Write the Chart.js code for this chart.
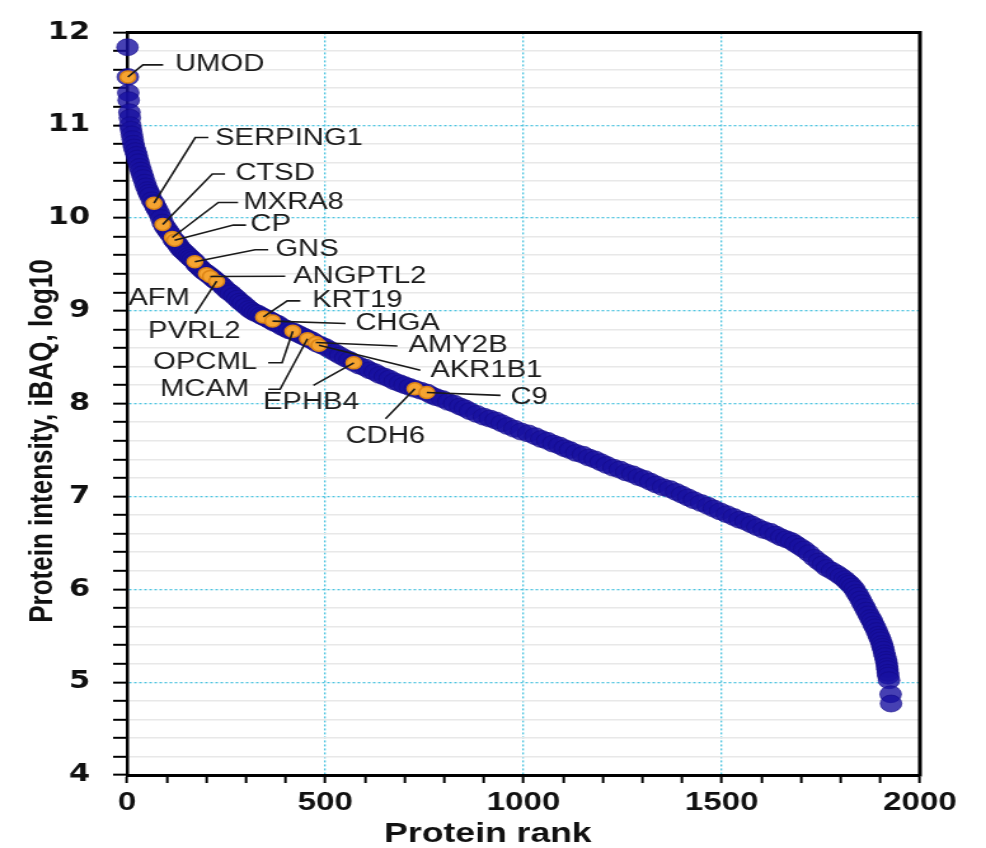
<!DOCTYPE html>
<html><head><meta charset="utf-8">
<script src="https://cdn.jsdelivr.net/npm/chart.js@4.4.1/dist/chart.umd.min.js"></script>
<style>
html,body{margin:0;padding:0;background:#fff;overflow:hidden}
#c{display:block}
</style></head>
<body>
<canvas id="c" width="776" height="848" style="width:986px;height:848px"></canvas>
<script>
// ---- data ----
const proteinRanks = [1,2,3,4,6,7,8,10,12,14,16,18,21,24,26,29,32,35,38,41,45,48,52,55,58,63,68,72,76,81,86,90,95,100,105,110,117,121,125,130,135,140,145,150,155,160,165,171,175,180,185,190,195,200,205,209,214,218,222,226,233,240,247,255,262,270,278,285,292,300,308,315,322,330,337,344,352,360,365,372,380,390,400,409,418,428,437,447,457,467,478,489,500,512,525,537,550,561,572,586,600,612,625,637,650,662,675,688,700,713,726,741,756,768,780,795,810,825,840,852,865,882,900,915,930,945,960,977,994,1012,1030,1045,1060,1075,1090,1104,1117,1133,1150,1165,1180,1195,1210,1227,1243,1259,1275,1290,1305,1320,1335,1352,1369,1385,1400,1415,1430,1448,1465,1480,1496,1513,1530,1545,1560,1575,1590,1606,1622,1636,1650,1663,1675,1686,1697,1708,1720,1733,1745,1755,1765,1778,1790,1800,1810,1817,1823,1829,1835,1840,1845,1850,1855,1860,1865,1870,1875,1879,1883,1887,1891,1895,1898,1901,1904,1906,1908,1910,1912,1914,1916,1917,1918,1919,1920,1922,1926,1927];
const proteinIntensity = [11.84,11.52,11.35,11.27,11.14,11.08,11.00,10.95,10.90,10.85,10.80,10.76,10.72,10.68,10.64,10.60,10.55,10.51,10.47,10.43,10.38,10.34,10.30,10.27,10.24,10.19,10.16,10.12,10.09,10.05,10.00,9.95,9.91,9.88,9.85,9.82,9.77,9.75,9.73,9.70,9.67,9.65,9.63,9.61,9.59,9.57,9.55,9.53,9.50,9.48,9.46,9.44,9.42,9.41,9.39,9.38,9.36,9.35,9.33,9.32,9.30,9.27,9.24,9.21,9.19,9.16,9.13,9.10,9.08,9.05,9.02,9.00,8.98,8.97,8.95,8.935,8.92,8.90,8.89,8.87,8.86,8.83,8.81,8.79,8.78,8.76,8.74,8.72,8.70,8.68,8.65,8.63,8.61,8.58,8.55,8.52,8.49,8.47,8.44,8.41,8.39,8.36,8.34,8.31,8.29,8.27,8.24,8.22,8.20,8.18,8.16,8.14,8.12,8.09,8.07,8.05,8.02,8.00,7.97,7.95,7.92,7.89,7.86,7.84,7.82,7.79,7.76,7.73,7.70,7.68,7.65,7.62,7.60,7.57,7.55,7.52,7.50,7.47,7.45,7.42,7.40,7.37,7.34,7.31,7.29,7.26,7.24,7.21,7.19,7.16,7.13,7.10,7.08,7.05,7.02,6.99,6.96,6.93,6.90,6.87,6.84,6.81,6.78,6.75,6.73,6.70,6.67,6.64,6.62,6.59,6.56,6.54,6.52,6.49,6.46,6.43,6.39,6.34,6.30,6.27,6.23,6.20,6.17,6.14,6.11,6.08,6.06,6.03,6.00,5.96,5.93,5.89,5.85,5.81,5.77,5.73,5.69,5.66,5.62,5.59,5.55,5.51,5.48,5.45,5.41,5.38,5.35,5.31,5.28,5.24,5.21,5.17,5.14,5.10,5.07,5.02,4.87,4.77];

const geneNames = ["UMOD","SERPING1","CTSD","MXRA8","CP","GNS","AFM","ANGPTL2","PVRL2","KRT19","CHGA","OPCML","MCAM","AMY2B","AKR1B1","EPHB4","CDH6","C9"];
const geneRanks = [2,68,90,114,120,171,200,210,226,344,367,418,455,476,484,572,726,756];
const geneIntensity = [11.52,10.16,9.93,9.79,9.76,9.53,9.40,9.37,9.32,8.935,8.89,8.78,8.70,8.66,8.63,8.44,8.16,8.12];

const xTickLabels = [0,500,1000,1500,2000];
const yTickLabels = [4,5,6,7,8,9,10,11,12];

const xTitle = "Protein rank";
const yTitle = "Protein intensity, iBAQ, log10";

// ---- label layout (data units: [rank, intensity]) ----
const labelLayout = {
  UMOD:     {text:[121,11.65],  path:[[40,11.65],[91,11.65]]},
  SERPING1: {text:[222,10.856], path:[[172,10.867],[205,10.867]]},
  CTSD:     {text:[273,10.475], path:[[215,10.475],[247,10.475]]},
  MXRA8:    {text:[293,10.167], path:[[230,10.167],[280,10.167]]},
  CP:       {text:[311,9.924],  path:[[268,9.924],[300,9.924]]},
  GNS:      {text:[374,9.659],  path:[[323,9.659],[356,9.659]]},
  AFM:      {text:[3,9.129],    path:null},
  ANGPTL2:  {text:[419,9.373],  path:[[399,9.373]]},
  PVRL2:    {text:[53,8.78],    path:[[172,8.97]]},
  KRT19:    {text:[467,9.108],  path:[[404,9.108],[437,9.108]]},
  CHGA:     {text:[576,8.864],  path:[[551,8.864]]},
  OPCML:    {text:[66,8.441],   path:[[391,8.441],[356,8.441]]},
  MCAM:     {text:[83,8.155],   path:[[386,8.155],[356,8.155]]},
  AMY2B:    {text:[710,8.621],  path:[[682,8.621]]},
  AKR1B1:   {text:[765,8.356],  path:[[740,8.36]]},
  EPHB4:    {text:[343,8.006],  path:[[470,8.197]]},
  CDH6:     {text:[551,7.646],  path:[[652,7.837]]},
  C9:       {text:[967,8.07],   path:[[942,8.09]]}
};

const CYAN = '#4cc3df';
const isInt = v => Math.abs(v - Math.round(v)) < 1e-6;
const isXMajor = v => xTickLabels.some(t => Math.abs(t - v) < 1e-6);

const annotPlugin = {
  id: 'annot',
  afterDatasetsDraw(chart) {
    const {ctx, scales:{x, y}, chartArea:a} = chart;
    ctx.save();
    // frame top / right
    ctx.strokeStyle = '#000';
    ctx.lineWidth = 3;
    ctx.beginPath();
    ctx.moveTo(a.left, a.top);
    ctx.lineTo(a.right, a.top);
    ctx.lineTo(a.right, a.bottom + 1.5);
    ctx.stroke();

    // leader lines
    ctx.strokeStyle = '#1a1a1a';
    ctx.lineWidth = 1.6;
    geneNames.forEach((g, i) => {
      const L = labelLayout[g];
      if (!L || !L.path) return;
      ctx.beginPath();
      ctx.moveTo(x.getPixelForValue(geneRanks[i]), y.getPixelForValue(geneIntensity[i]));
      L.path.forEach(p => ctx.lineTo(x.getPixelForValue(p[0]), y.getPixelForValue(p[1])));
      ctx.stroke();
    });
    // label text
    ctx.fillStyle = '#1c1c1c';
    ctx.font = '23px "Liberation Sans", Arial, sans-serif';
    ctx.textAlign = 'left';
    ctx.textBaseline = 'middle';
    geneNames.forEach(g => {
      const L = labelLayout[g];
      ctx.fillText(g, x.getPixelForValue(L.text[0]), y.getPixelForValue(L.text[1]));
    });

    // x title
    ctx.textAlign = 'center';
    ctx.fillStyle = '#111';
    ctx.font = 'bold 28px "Liberation Sans", Arial, sans-serif';
    ctx.fillText(xTitle, 384, 834);

    // y title
    ctx.translate(34, 441);
    ctx.rotate(-Math.PI/2);
    ctx.font = 'bold 26px "Liberation Sans", Arial, sans-serif';
    ctx.fillText(yTitle, 0, 0);
    ctx.restore();
  }
};

new Chart(document.getElementById('c'), {
  type: 'scatter',
  data: {
    datasets: [
      {
        label: 'Highlighted',
        data: geneRanks.map((r, i) => ({x: r, y: geneIntensity[i]})),
        pointRadius: 6,
        pointHoverRadius: 6,
        backgroundColor: '#f6a431',
        borderColor: '#dc8416',
        borderWidth: 1.5,
        clip: false
      },
      {
        label: 'Proteins',
        data: proteinRanks.map((r, i) => ({x: r, y: proteinIntensity[i]})),
        pointRadius: 8.5,
        pointHoverRadius: 8.5,
        backgroundColor: 'rgba(24,16,160,0.8)',
        borderColor: 'rgba(18,10,135,0.6)',
        borderWidth: 1,
        clip: false
      }
    ]
  },
  options: {
    responsive: false,
    animation: false,
    events: [],
    layout: {padding: {top: 18, right: 52, left: 0, bottom: 0}},
    plugins: {legend: {display: false}, tooltip: {enabled: false}},
    scales: {
      x: {
        type: 'linear', min: 0, max: 2000,
        afterFit: s => { s.height = 73; },
        ticks: {
          stepSize: 100, autoSkip: false, maxRotation: 0, padding: 4,
          color: '#111',
          font: {family: '"Liberation Sans", Arial, sans-serif', size: 26, weight: 'bold'},
          callback: v => isXMajor(v) ? String(v) : ''
        },
        grid: {
          color: c => (c.tick && isXMajor(c.tick.value)) ? CYAN : 'rgba(0,0,0,0)',
          lineWidth: 1.3,
          tickColor: '#000', tickWidth: 2, tickLength: 8, drawTicks: true
        },
        border: {display: true, color: '#000', width: 3, dash: c => (c.tick && isXMajor(c.tick.value)) ? [2,2] : []},
        title: {display: false}
      },
      y: {
        type: 'linear', min: 4, max: 12,
        afterFit: s => { s.width = 100; },
        ticks: {
          stepSize: 0.2, autoSkip: false, padding: 18, color: '#111',
          font: {family: '"DejaVu Sans", sans-serif', size: 24, weight: 'bold'},
          callback: v => isInt(v) ? String(Math.round(v)) : ''
        },
        grid: {
          color: c => (c.tick && isInt(c.tick.value)) ? CYAN : '#e8e8e8',
          lineWidth: c => (c.tick && isInt(c.tick.value)) ? 1.3 : 1.6,
          tickColor: '#000', tickWidth: 2, tickLength: 11
        },
        border: {display: true, color: '#000', width: 2.5, dash: c => (c.tick && isInt(c.tick.value)) ? [2,2] : []}
      }
    }
  },
  plugins: [annotPlugin]
});
</script>
</body></html>
